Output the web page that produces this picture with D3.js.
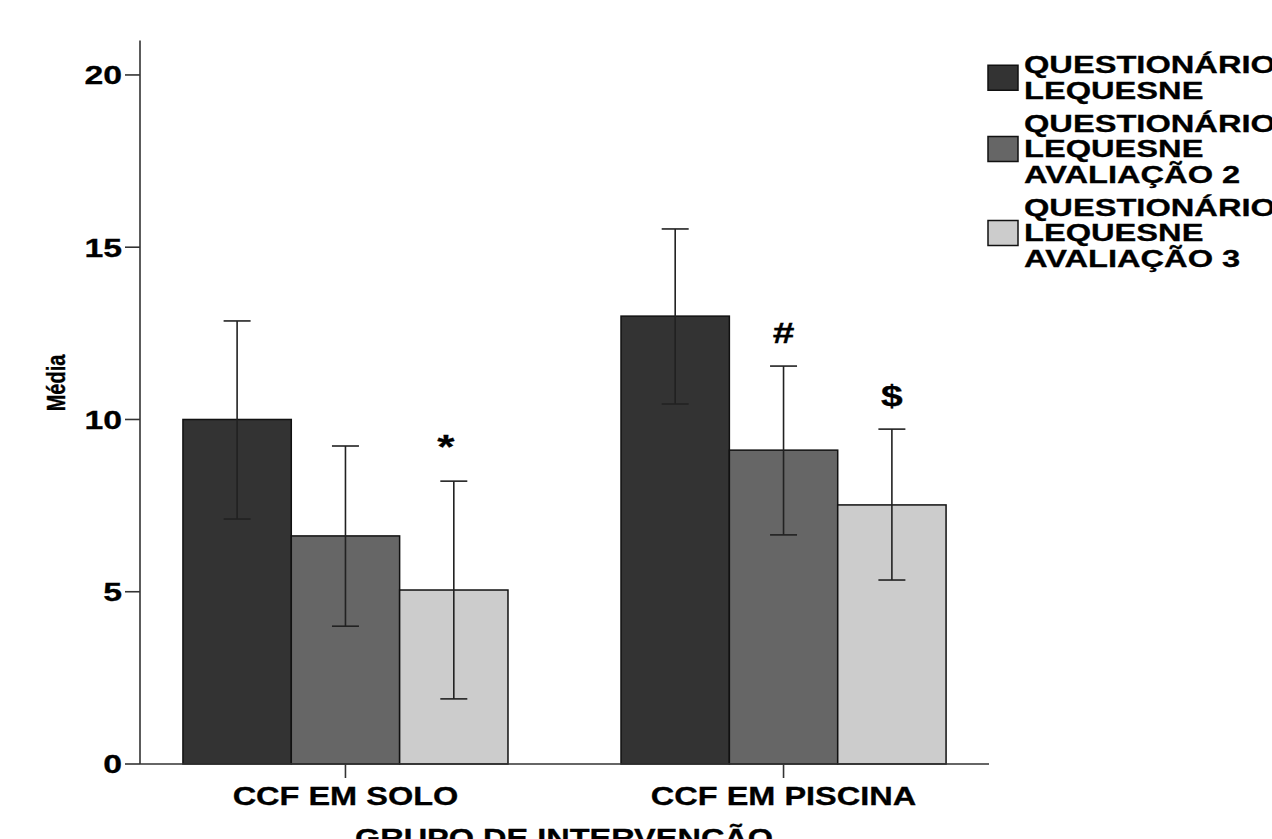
<!DOCTYPE html>
<html>
<head>
<meta charset="utf-8">
<script src="https://cdnjs.cloudflare.com/ajax/libs/d3/7.8.5/d3.min.js"></script>
<style>
  body { margin: 0; background: #fff; overflow: hidden; }
  text { font-family: "Liberation Sans", Arial, sans-serif; font-weight: bold; fill: #000; stroke: #000; stroke-width: 0.3px; }
</style>
</head>
<body>
<script>
// data
var groups = ["CCF EM SOLO", "CCF EM PISCINA"];
var series = ["QUESTIONÁRIO LEQUESNE", "QUESTIONÁRIO LEQUESNE AVALIAÇÃO 2", "QUESTIONÁRIO LEQUESNE AVALIAÇÃO 3"];
var legendLines = [
  ["QUESTIONÁRIO", "LEQUESNE"],
  ["QUESTIONÁRIO", "LEQUESNE", "AVALIAÇÃO 2"],
  ["QUESTIONÁRIO", "LEQUESNE", "AVALIAÇÃO 3"]
];
var colors = ["#333333", "#666666", "#cccccc"];
// means per group, one value per series
var means = [
  [10.0, 6.62, 5.05],
  [13.0, 9.11, 7.52]
];
var errHigh = [
  [12.86, 9.23, 8.21],
  [15.53, 11.55, 9.72]
];
var errLow = [
  [7.11, 4.0, 1.89],
  [10.45, 6.65, 5.34]
];
// significance marks: group, series, label, height
var marks = [
  { g: 0, s: 2, label: "*", v: 9.5 },
  { g: 1, s: 1, label: "#", v: 12.54 },
  { g: 1, s: 2, label: "$", v: 10.71 }
];
var yTicks = [0, 5, 10, 15, 20];

var w = 1272;
var h = 839;
var stretch = 1.3; // text in the picture is widened horizontally

var svg = d3.select("body")
  .append("svg")
  .attr("width", w)
  .attr("height", h);

var x0 = d3.scaleBand()
  .domain(groups)
  .range([140, 989])
  .paddingInner(0.258)
  .paddingOuter(0.098);

var x1 = d3.scaleBand()
  .domain(d3.range(series.length))
  .range([0, x0.bandwidth()]);

var y = d3.scaleLinear()
  .domain([0, 21])
  .range([764, 40.5]);

// bars
var g = svg.selectAll(".group")
  .data(groups)
  .enter()
  .append("g")
  .attr("class", "group")
  .attr("transform", (d) => "translate(" + x0(d) + ",0)");

g.selectAll("rect")
  .data((d, gi) => means[gi].map((v, si) => ({ v: v, s: si })))
  .enter()
  .append("rect")
  .attr("x", (d) => x1(d.s))
  .attr("y", (d) => y(d.v))
  .attr("width", x1.bandwidth())
  .attr("height", (d) => y(0) - y(d.v))
  .attr("fill", (d) => colors[d.s])
  .attr("stroke", "#111")
  .attr("stroke-width", 1.5);

// error bars
var capW = 27;
var err = g.selectAll(".err")
  .data((d, gi) => means[gi].map((v, si) => ({ hi: errHigh[gi][si], lo: errLow[gi][si], s: si })))
  .enter()
  .append("g")
  .attr("class", "err")
  .attr("stroke", "#222")
  .attr("stroke-width", 1.6);

err.append("line")
  .attr("x1", (d) => x1(d.s) + x1.bandwidth() / 2)
  .attr("x2", (d) => x1(d.s) + x1.bandwidth() / 2)
  .attr("y1", (d) => y(d.hi))
  .attr("y2", (d) => y(d.lo));
err.append("line")
  .attr("x1", (d) => x1(d.s) + x1.bandwidth() / 2 - capW / 2)
  .attr("x2", (d) => x1(d.s) + x1.bandwidth() / 2 + capW / 2)
  .attr("y1", (d) => y(d.hi))
  .attr("y2", (d) => y(d.hi));
err.append("line")
  .attr("x1", (d) => x1(d.s) + x1.bandwidth() / 2 - capW / 2)
  .attr("x2", (d) => x1(d.s) + x1.bandwidth() / 2 + capW / 2)
  .attr("y1", (d) => y(d.lo))
  .attr("y2", (d) => y(d.lo));

// significance marks
svg.selectAll(".mark")
  .data(marks)
  .enter()
  .append("text")
  .attr("class", "mark")
  .attr("transform", (d) => "translate(" + (x0(groups[d.g]) + x1(d.s) + x1.bandwidth() / 2 - (d.label == "*" ? 8 : 0)) + "," + y(d.v) + ") scale(" + stretch + ",1)")
  .attr("text-anchor", "middle")
  .attr("dy", (d) => d.label == "*" ? "0.62em" : "0.36em")
  .attr("font-size", (d) => d.label == "*" ? "34px" : "30px")
  .text((d) => d.label);

// y axis
svg.append("line")
  .attr("x1", 140).attr("x2", 140)
  .attr("y1", y(21)).attr("y2", y(0))
  .attr("stroke", "#333").attr("stroke-width", 1.6);

svg.selectAll(".ytick")
  .data(yTicks)
  .enter()
  .append("line")
  .attr("x1", 125).attr("x2", 140)
  .attr("y1", (d) => y(d)).attr("y2", (d) => y(d))
  .attr("stroke", "#333").attr("stroke-width", 1.6);

svg.selectAll(".ylab")
  .data(yTicks)
  .enter()
  .append("text")
  .attr("transform", (d) => "translate(122," + y(d) + ") scale(" + stretch + ",1)")
  .attr("text-anchor", "end")
  .attr("dy", "0.36em")
  .attr("font-size", "26px")
  .text((d) => d);

svg.append("text")
  .attr("transform", "translate(56,383) scale(" + stretch + ",1) rotate(-90)")
  .attr("text-anchor", "middle")
  .attr("dy", "0.36em")
  .attr("font-size", "20px")
  .text("Média");

// x axis
svg.append("line")
  .attr("x1", 140).attr("x2", 989)
  .attr("y1", y(0)).attr("y2", y(0))
  .attr("stroke", "#333").attr("stroke-width", 1.6);

svg.selectAll(".xtick")
  .data(groups)
  .enter()
  .append("line")
  .attr("x1", (d) => x0(d) + x0.bandwidth() / 2)
  .attr("x2", (d) => x0(d) + x0.bandwidth() / 2)
  .attr("y1", y(0)).attr("y2", y(0) + 14)
  .attr("stroke", "#333").attr("stroke-width", 1.6);

svg.selectAll(".xlab")
  .data(groups)
  .enter()
  .append("text")
  .attr("transform", (d) => "translate(" + (x0(d) + x0.bandwidth() / 2) + ",805) scale(" + stretch + ",1)")
  .attr("text-anchor", "middle")
  .attr("font-size", "25px")
  .text((d) => d);

svg.append("text")
  .attr("transform", "translate(564,847) scale(" + stretch + ",1)")
  .attr("text-anchor", "middle")
  .attr("font-size", "25px")
  .text("GRUPO DE INTERVENÇÃO");

// legend (wider than the rest, runs off the right edge)
var lineH = 25.5;
var legendY = 73;
legendLines.forEach(function(lines, i) {
  var first = legendY;
  lines.forEach(function(t, j) {
    svg.append("text")
      .attr("transform", "translate(1024," + (first + j * lineH) + ") scale(1.36,1)")
      .attr("font-size", "24px")
      .text(t);
  });
  var mid = first + (lines.length - 1) * lineH / 2 - 8;
  svg.append("rect")
    .attr("x", 988)
    .attr("y", mid - 12.5)
    .attr("width", 30)
    .attr("height", 25)
    .attr("fill", colors[i])
    .attr("stroke", "#111")
    .attr("stroke-width", 1.5);
  legendY = first + lines.length * lineH + 7.5;
});
</script>
</body>
</html>
